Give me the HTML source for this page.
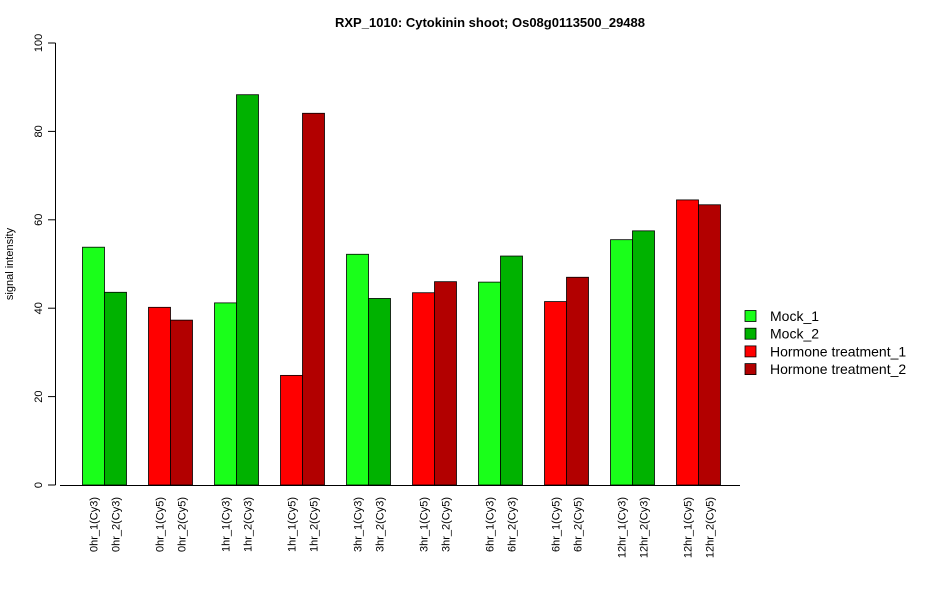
<!DOCTYPE html>
<html><head><meta charset="utf-8"><style>body{margin:0;background:#fff}svg{display:block;font-family:"Liberation Sans",Arial,sans-serif}</style></head>
<body>
<svg id="chart" width="950" height="600" xmlns="http://www.w3.org/2000/svg"></svg>
<script>
const categories=["0hr_1(Cy3)","0hr_2(Cy3)","0hr_1(Cy5)","0hr_2(Cy5)","1hr_1(Cy3)","1hr_2(Cy3)","1hr_1(Cy5)","1hr_2(Cy5)","3hr_1(Cy3)","3hr_2(Cy3)","3hr_1(Cy5)","3hr_2(Cy5)","6hr_1(Cy3)","6hr_2(Cy3)","6hr_1(Cy5)","6hr_2(Cy5)","12hr_1(Cy3)","12hr_2(Cy3)","12hr_1(Cy5)","12hr_2(Cy5)"];
const values=[53.8,43.6,40.2,37.3,41.2,88.3,24.8,84.1,52.2,42.2,43.5,46.0,45.9,51.8,41.5,47.0,55.5,57.5,64.5,63.4];
const seriesIndex=[0,1,2,3,0,1,2,3,0,1,2,3,0,1,2,3,0,1,2,3];
const seriesNames=["Mock_1","Mock_2","Hormone treatment_1","Hormone treatment_2"];
const seriesColors=["#1aff1a","#00b200","#ff0000","#b20000"];
const yTicks=[0,20,40,60,80,100];
const svg=document.getElementById('chart');const NS="http://www.w3.org/2000/svg";
function mk(t,a,txt){const e=document.createElementNS(NS,t);for(const k in a)e.setAttribute(k,a[k]);if(txt!=null)e.textContent=txt;svg.appendChild(e);return e;}
const y0=485,y1=43,ymax=100;
const y=v=>y0-(y0-y1)*v/ymax;
const bw=22,start=82.5,gw=66;
const x=i=>start+Math.floor(i/2)*gw+(i%2)*bw;
let t=mk('text',{x:490,y:27,'text-anchor':'middle','font-size':13,'font-weight':'bold'},"RXP_1010: Cytokinin shoot; Os08g0113500_29488");

values.forEach((v,i)=>{const r=mk('rect',{x:x(i),y:y(v),width:bw,height:y0-y(v),fill:seriesColors[seriesIndex[i]],stroke:'#000','stroke-width':0.8});

const cx=x(i)+bw/2+4;const l=mk('text',{transform:`translate(${cx},497) rotate(-90)`,'text-anchor':'end','font-size':11},categories[i]);
});
let a=mk('line',{x1:60,y1:485.5,x2:740,y2:485.5,stroke:'#000'});
a=mk('line',{x1:55.5,y1:y(0),x2:55.5,y2:y(100),stroke:'#000'});
yTicks.forEach(v=>{const tk=mk('line',{x1:48,x2:55.5,y1:y(v),y2:y(v),stroke:'#000'});
const l=mk('text',{transform:`translate(42,${y(v)}) rotate(-90)`,'text-anchor':'middle','font-size':11},String(v));});
t=mk('text',{transform:'translate(13,264) rotate(-90)','text-anchor':'middle','font-size':11},"signal intensity");
seriesNames.forEach((n,k)=>{const yy=316+k*17.7;const r=mk('rect',{x:745,y:yy-5.5,width:11,height:11,fill:seriesColors[k],stroke:'#000','stroke-width':0.8});

const l=mk('text',{x:770,y:yy+5,'font-size':14},n);});
</script>
</body></html>
